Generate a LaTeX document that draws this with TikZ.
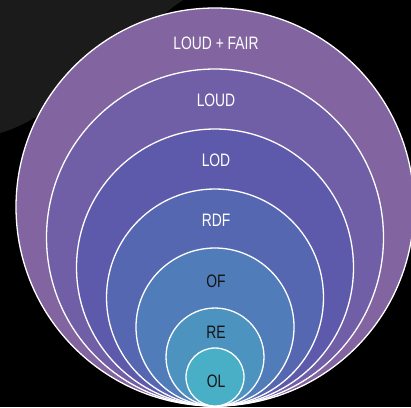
\documentclass[tikz,border=0pt]{standalone}
\usepackage{fontspec}
\setmainfont[FakeStretch=0.77]{Liberation Sans}

\definecolor{bggray}{HTML}{1B1B1B}
\definecolor{ringA}{HTML}{8164A0}
\definecolor{ringB}{HTML}{705FA7}
\definecolor{ringC}{HTML}{5E5AAB}
\definecolor{ringD}{HTML}{5667B1}
\definecolor{ringE}{HTML}{517CBA}
\definecolor{ringF}{HTML}{4C93C0}
\definecolor{ringG}{HTML}{49AFC6}

\tikzset{
  ring/.style={draw=white, line width=1.3pt},
  lbl/.style={font=\fontsize{18}{18}\selectfont, text=white},
  lbldark/.style={lbl, text=black!92}
}

\begin{document}
\begin{tikzpicture}[x=1pt,y=-1pt]
  \useasboundingbox (0,0) rectangle (411,407);

  % --- background ---
  \fill[black] (0,0) rectangle (411,407);
  \fill[bggray] (0,0) -- (183,0) .. controls (140,28) and (60,117) .. (0,133) -- cycle;

  % --- rings, all touching at the bottom ---
  \filldraw[ring, fill=ringA] (215,207) circle (199pt);
  \filldraw[ring, fill=ringB] (215,237.5) circle (168.5pt);
  \filldraw[ring, fill=ringC] (215,267.5) circle (138.5pt);
  \filldraw[ring, fill=ringD] (215,297.5) circle (108.5pt);
  \filldraw[ring, fill=ringE] (215,327) circle (79pt);
  \filldraw[ring, fill=ringF] (215,357) circle (49pt);
  \filldraw[ring, fill=ringG] (215,377) circle (29pt);

  % --- labels ---
  \node[lbl] (loudfair) at (216,43) {LOUD + FAIR};
  \node[lbl] (loud) at (216,100) {LOUD};
  \node[lbl] (lod) at (216,160) {LOD};
  \node[lbl] (rdf) at (216,220) {RDF};
  \node[lbldark] (of) at (216,281) {OF};
  \node[lbldark] (re) at (216,332) {RE};
  \node[lbldark] (ol) at (216,381) {OL};
\end{tikzpicture}
\end{document}
